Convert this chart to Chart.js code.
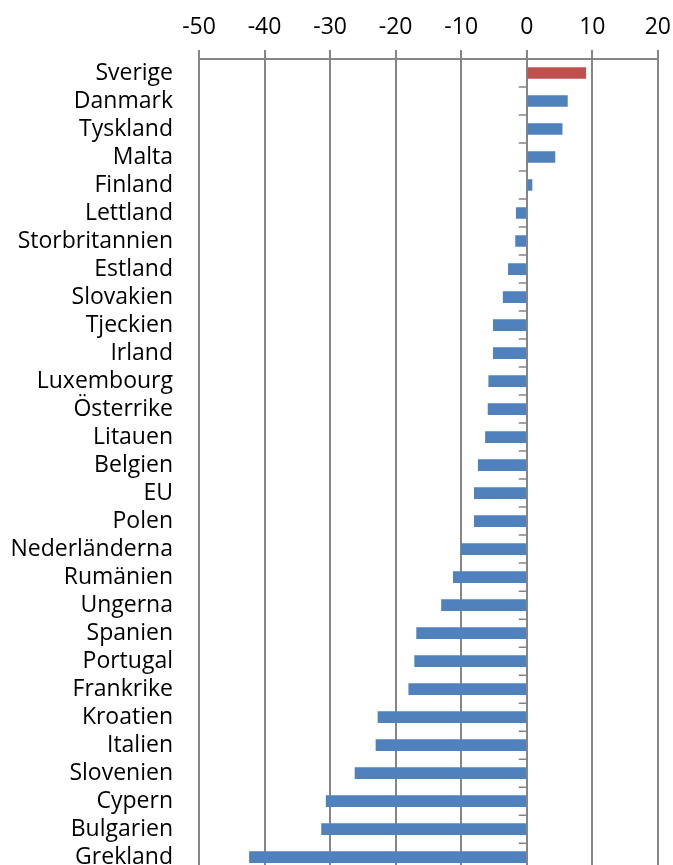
<!DOCTYPE html>
<html>
<head>
<meta charset="utf-8">
<script src="https://cdn.jsdelivr.net/npm/chart.js@4/dist/chart.umd.min.js"></script>
<style>
  html, body { margin: 0; padding: 0; background: #fff; overflow: hidden; }
  canvas { display: block; }
</style>
</head>
<body>
<canvas id="c" width="690" height="910"></canvas>
<script>
const categories = ["Sverige","Danmark","Tyskland","Malta","Finland","Lettland","Storbritannien","Estland","Slovakien","Tjeckien","Irland","Luxembourg","Österrike","Litauen","Belgien","EU","Polen","Nederländerna","Rumänien","Ungerna","Spanien","Portugal","Frankrike","Kroatien","Italien","Slovenien","Cypern","Bulgarien","Grekland"];
const values = [9.0, 6.2, 5.4, 4.3, 0.8, -1.6, -1.7, -2.8, -3.6, -5.1, -5.1, -5.8, -5.9, -6.3, -7.4, -8.0, -8.0, -10.0, -11.2, -13.0, -16.8, -17.1, -18.0, -22.7, -23.0, -26.2, -30.6, -31.3, -42.3];
const highlighted = ["Sverige"];
const xTickMin = -50, xTickMax = 20, xTickStep = 10;

const BLUE = "#4F81BD", RED = "#C0504D", GRID = "#868686";
const FONT = "'Open Sans', 'Noto Sans', sans-serif";
const TARGET_RIGHT = 658, TARGET_BOTTOM = 871;

const catTicks = {
  id: "catTicks",
  afterDatasetsDraw(chart) {
    const { ctx, scales: { x, y } } = chart;
    const x0 = x.getPixelForValue(0);
    ctx.save();
    ctx.strokeStyle = GRID;
    ctx.lineWidth = 1.5;
    ctx.beginPath();
    for (let i = 0; i < categories.length - 1; i++) {
      const yy = (y.getPixelForValue(i) + y.getPixelForValue(i + 1)) / 2;
      ctx.moveTo(x0 - 8, yy);
      ctx.lineTo(x0, yy);
    }
    ctx.stroke();
    ctx.restore();
  }
};

const canvas = document.getElementById("c");
function build() {
  return new Chart(canvas, {
    type: "bar",
    data: {
      labels: categories,
      datasets: [{
        data: values,
        backgroundColor: categories.map(c => highlighted.includes(c) ? RED : BLUE),
        barThickness: 11,
        borderWidth: 0
      }]
    },
    options: {
      indexAxis: "y",
      responsive: false,
      animation: false,
      layout: { padding: 0 },
      plugins: { legend: { display: false }, tooltip: { enabled: false } },
      scales: {
        x: {
          position: "top",
          min: xTickMin, max: xTickMax,
          ticks: { stepSize: xTickStep, color: "#000", font: { family: FONT, size: 23 }, padding: 9, maxRotation: 0 },
          grid: { color: GRID, lineWidth: 2, tickLength: 9, drawTicks: true },
          border: { color: GRID, width: 2 },
          afterFit(s) { s.height = 59; }
        },
        y: {
          position: "left",
          ticks: { color: "#000", font: { family: FONT, size: 23 }, padding: 26, autoSkip: false },
          grid: { display: false, drawTicks: false },
          border: { display: false },
          afterFit(s) { s.width = 199; }
        }
      }
    },
    plugins: [catTicks]
  });
}

let chart = build();
const dx = Math.round(chart.chartArea.right - TARGET_RIGHT);
const dy = Math.round(chart.chartArea.bottom - TARGET_BOTTOM);
if (dx !== 0 || dy !== 0) {
  const w = canvas.width - dx, h = canvas.height - dy;
  chart.destroy();
  canvas.width = w; canvas.height = h;
  canvas.style.width = w + "px"; canvas.style.height = h + "px";
  chart = build();
}
</script>
</body>
</html>
